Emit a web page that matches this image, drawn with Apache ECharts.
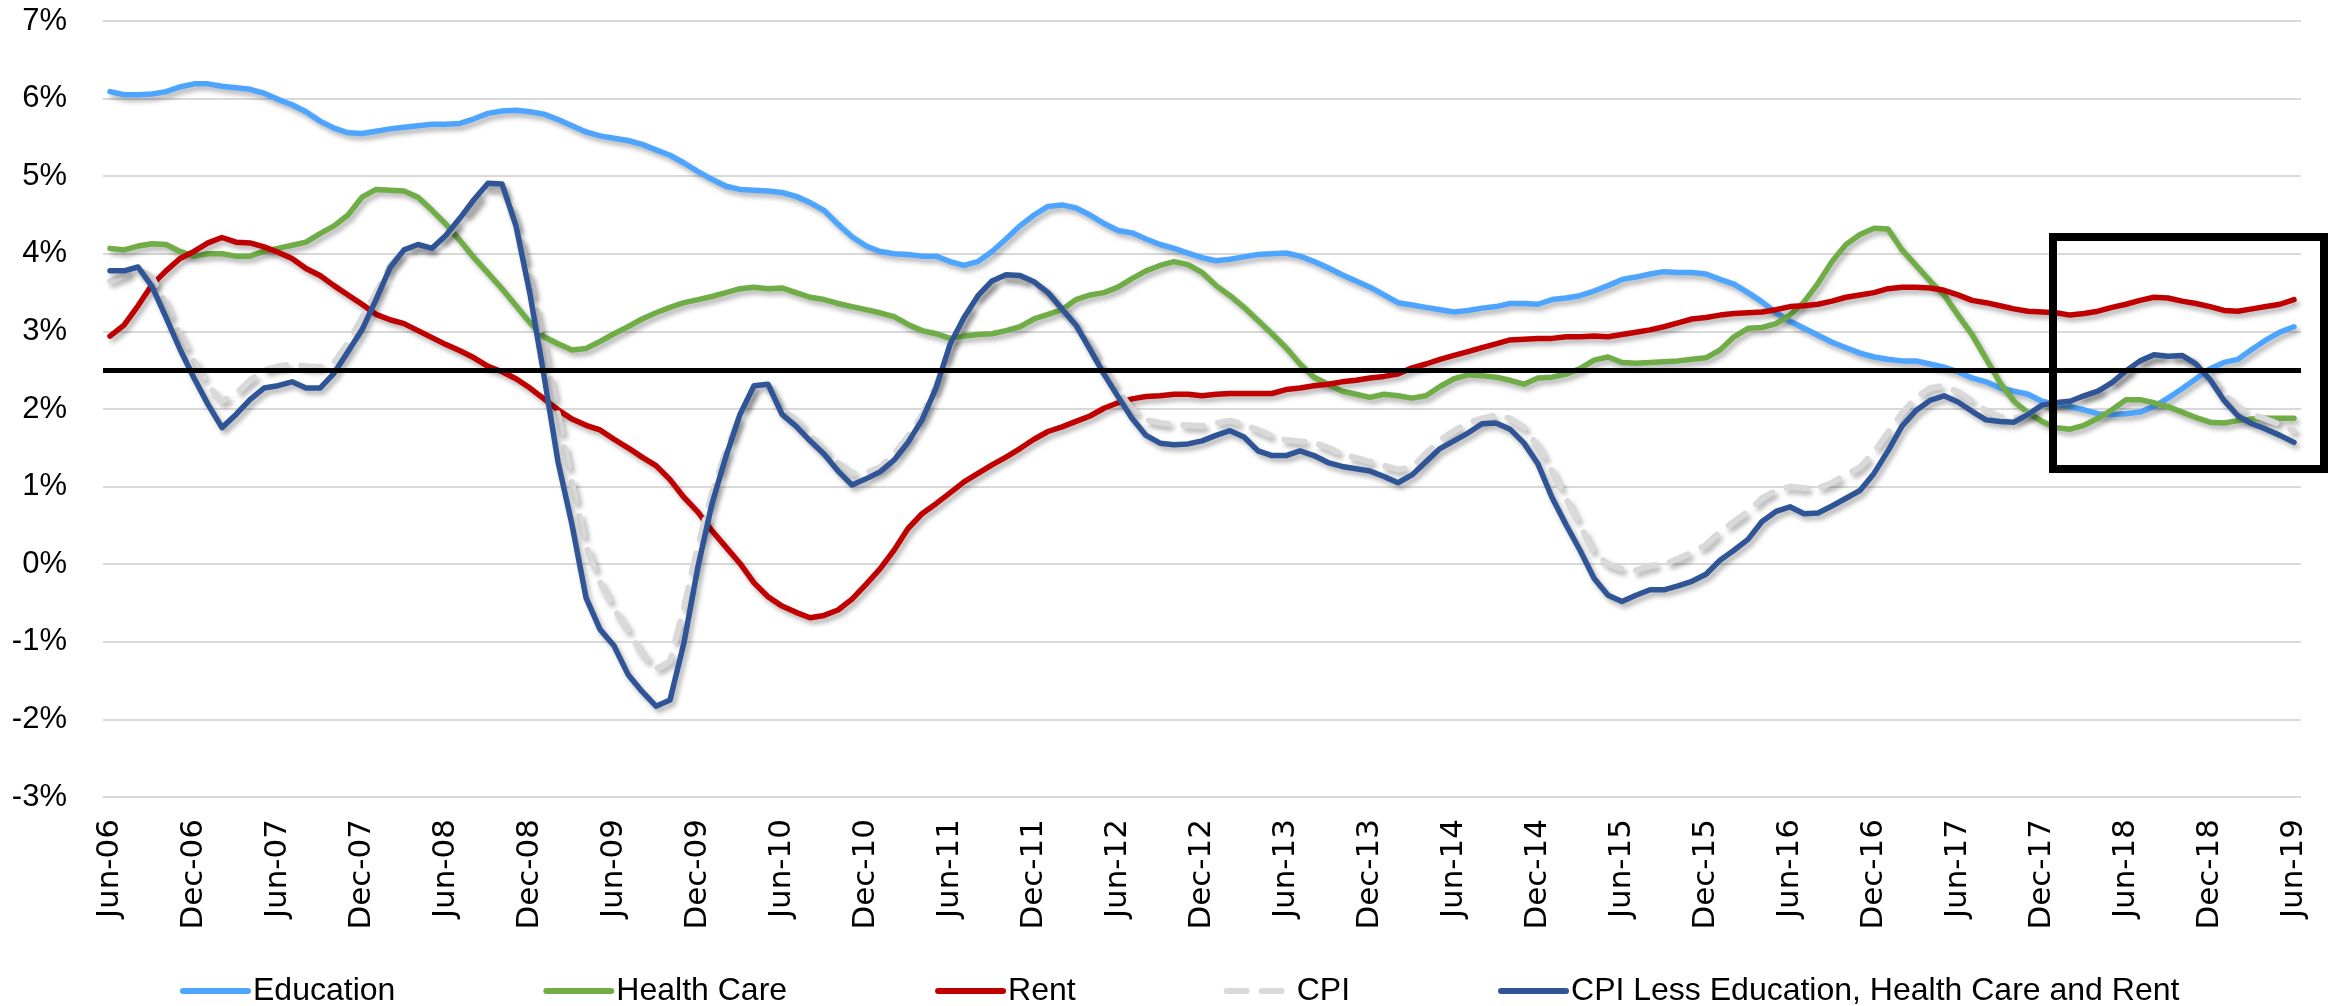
<!DOCTYPE html>
<html>
<head>
<meta charset="utf-8">
<script src="https://cdn.jsdelivr.net/npm/echarts@6/dist/echarts.min.js"></script>
<style>
  html, body { margin: 0; padding: 0; background: #fff; }
  #chart { width: 2328px; height: 1006px; }
</style>
</head>
<body>
<div id="chart"></div>
<script>
// month labels, Jun-06 .. Jun-19
var MONTHS = ['Jan','Feb','Mar','Apr','May','Jun','Jul','Aug','Sep','Oct','Nov','Dec'];
var categories = [];
for (var yr = 2006; yr <= 2019; yr++) {
  for (var mo = 0; mo < 12; mo++) {
    if ((yr == 2006 && mo < 5) || (yr == 2019 && mo > 5)) continue;
    categories.push(MONTHS[mo] + '-' + String(yr).slice(2));
  }
}

var TARGET = 2.5;

var education = [
  6.09,6.05,6.05,6.06,6.09,6.15,6.19,6.19,6.16,6.14,6.12,6.07,5.99,5.92,5.83,5.71,5.62,5.56,5.55,5.58,
  5.61,5.63,5.65,5.67,5.67,5.68,5.74,5.81,5.84,5.85,5.83,5.80,5.73,5.65,5.57,5.52,5.49,5.46,5.41,5.34,
  5.27,5.17,5.06,4.96,4.87,4.83,4.82,4.81,4.79,4.74,4.66,4.56,4.38,4.22,4.10,4.03,4.00,3.99,3.97,3.97,
  3.90,3.85,3.90,4.03,4.19,4.36,4.50,4.61,4.63,4.59,4.50,4.39,4.30,4.27,4.19,4.12,4.07,4.01,3.95,3.91,
  3.93,3.96,3.99,4.00,4.01,3.97,3.90,3.82,3.73,3.65,3.57,3.47,3.37,3.34,3.31,3.28,3.25,3.27,3.30,3.32,
  3.36,3.36,3.35,3.41,3.43,3.46,3.52,3.59,3.67,3.70,3.74,3.77,3.76,3.76,3.74,3.67,3.61,3.50,3.38,3.24,
  3.13,3.04,2.95,2.86,2.79,2.72,2.67,2.64,2.62,2.62,2.58,2.54,2.48,2.40,2.35,2.27,2.23,2.19,2.10,2.06,
  2.03,1.99,1.94,1.93,1.94,1.96,2.03,2.14,2.26,2.39,2.52,2.60,2.64,2.77,2.89,2.99,3.06
];
var healthCare = [
  4.07,4.05,4.10,4.13,4.12,4.03,3.97,4.00,4.00,3.97,3.97,4.03,4.07,4.11,4.15,4.26,4.36,4.50,4.73,4.83,
  4.82,4.81,4.73,4.56,4.38,4.17,3.95,3.75,3.55,3.33,3.11,2.93,2.84,2.76,2.78,2.87,2.97,3.06,3.16,3.24,
  3.31,3.37,3.41,3.45,3.50,3.55,3.57,3.55,3.56,3.50,3.44,3.41,3.36,3.32,3.28,3.24,3.19,3.09,3.01,2.97,
  2.91,2.94,2.96,2.97,3.01,3.06,3.16,3.22,3.28,3.41,3.47,3.50,3.57,3.68,3.78,3.85,3.90,3.86,3.76,3.59,
  3.46,3.31,3.14,2.97,2.79,2.58,2.41,2.32,2.23,2.19,2.15,2.19,2.17,2.14,2.17,2.29,2.39,2.44,2.43,2.41,
  2.37,2.32,2.40,2.41,2.45,2.52,2.63,2.67,2.60,2.59,2.60,2.61,2.62,2.64,2.66,2.76,2.93,3.04,3.05,3.10,
  3.21,3.38,3.62,3.90,4.12,4.25,4.33,4.32,4.05,3.85,3.65,3.47,3.21,2.96,2.65,2.34,2.10,1.95,1.84,1.76,
  1.74,1.79,1.88,1.99,2.12,2.12,2.08,2.03,1.96,1.89,1.83,1.82,1.85,1.87,1.88,1.88,1.88
];
var rent = [
  2.94,3.08,3.33,3.60,3.78,3.94,4.03,4.14,4.21,4.15,4.14,4.09,4.02,3.94,3.81,3.72,3.59,3.47,3.35,3.22,
  3.15,3.10,3.01,2.92,2.83,2.75,2.66,2.55,2.48,2.39,2.27,2.13,1.99,1.87,1.79,1.73,1.61,1.50,1.38,1.27,
  1.09,0.86,0.67,0.43,0.22,0.01,-0.24,-0.42,-0.54,-0.62,-0.69,-0.66,-0.59,-0.45,-0.26,-0.06,0.18,0.46,0.65,0.78,
  0.92,1.06,1.17,1.28,1.38,1.49,1.61,1.71,1.77,1.84,1.91,2.01,2.08,2.13,2.16,2.17,2.19,2.19,2.17,2.19,
  2.20,2.20,2.20,2.20,2.25,2.27,2.30,2.32,2.35,2.37,2.40,2.42,2.45,2.53,2.58,2.64,2.69,2.74,2.79,2.84,
  2.89,2.90,2.91,2.91,2.93,2.93,2.94,2.93,2.96,2.99,3.02,3.06,3.11,3.16,3.18,3.21,3.23,3.24,3.25,3.28,
  3.32,3.33,3.35,3.39,3.44,3.47,3.50,3.55,3.57,3.57,3.56,3.53,3.47,3.40,3.37,3.33,3.29,3.26,3.25,3.24,
  3.21,3.23,3.26,3.31,3.35,3.40,3.44,3.43,3.39,3.36,3.32,3.27,3.26,3.29,3.32,3.35,3.41
];
var cpi = [
  3.65,3.72,3.80,3.70,3.35,2.95,2.62,2.30,2.10,2.20,2.37,2.50,2.55,2.58,2.55,2.54,2.60,2.85,3.18,3.50,
  3.85,4.05,4.10,4.07,4.22,4.40,4.62,4.85,4.85,4.42,3.68,2.80,1.93,1.05,0.24,-0.23,-0.57,-0.85,-1.15,-1.35,
  -1.25,-0.55,0.24,0.92,1.46,1.93,2.27,2.30,2.00,1.86,1.66,1.47,1.31,1.17,1.18,1.25,1.42,1.65,1.92,2.30,
  2.80,3.15,3.45,3.62,3.70,3.68,3.62,3.50,3.30,3.10,2.82,2.52,2.24,2.00,1.86,1.82,1.80,1.79,1.78,1.82,
  1.85,1.80,1.73,1.65,1.60,1.58,1.57,1.50,1.42,1.37,1.32,1.27,1.22,1.25,1.43,1.60,1.72,1.82,1.88,1.92,
  1.88,1.76,1.52,1.20,0.85,0.50,0.15,0.00,-0.06,-0.08,-0.02,0.00,0.07,0.15,0.25,0.42,0.55,0.68,0.85,0.95,
  1.00,0.98,0.98,1.05,1.15,1.25,1.45,1.70,1.95,2.15,2.27,2.30,2.22,2.10,1.98,1.90,1.88,1.93,2.05,2.08,
  2.10,2.17,2.23,2.33,2.47,2.60,2.68,2.67,2.68,2.60,2.42,2.20,2.02,1.93,1.87,1.80,1.72
];
var cpiLess = [
  3.78,3.78,3.83,3.58,3.18,2.77,2.40,2.06,1.76,1.93,2.12,2.27,2.30,2.35,2.27,2.27,2.46,2.74,3.02,3.41,
  3.82,4.05,4.12,4.07,4.24,4.46,4.70,4.91,4.90,4.36,3.48,2.43,1.32,0.51,-0.43,-0.84,-1.05,-1.42,-1.64,-1.83,
  -1.75,-1.01,-0.03,0.78,1.39,1.93,2.30,2.32,1.93,1.78,1.59,1.42,1.20,1.02,1.10,1.19,1.34,1.57,1.86,2.27,
  2.83,3.18,3.46,3.65,3.73,3.72,3.64,3.50,3.29,3.08,2.77,2.45,2.16,1.88,1.66,1.56,1.54,1.55,1.59,1.66,
  1.72,1.64,1.46,1.40,1.40,1.46,1.40,1.31,1.26,1.23,1.20,1.13,1.05,1.15,1.32,1.49,1.59,1.69,1.81,1.82,
  1.74,1.56,1.29,0.86,0.51,0.18,-0.18,-0.40,-0.48,-0.40,-0.33,-0.33,-0.28,-0.22,-0.13,0.05,0.18,0.32,0.55,0.68,
  0.74,0.65,0.66,0.75,0.85,0.95,1.17,1.46,1.78,1.98,2.11,2.17,2.09,1.97,1.86,1.84,1.83,1.93,2.05,2.08,
  2.10,2.17,2.23,2.34,2.49,2.62,2.70,2.68,2.69,2.58,2.38,2.11,1.91,1.81,1.74,1.66,1.57
];

var names = ['Education', 'Health Care', 'Rent', 'CPI', 'CPI Less Education, Health Care and Rent'];

var chart = echarts.init(document.getElementById('chart'));

// line series with the soft drop shadow the original has
function lineSeries(name, data, color, width, dash) {
  return {
    name: name,
    type: 'line',
    data: data,
    symbol: 'none',
    z: 3,
    lineStyle: {
      color: color,
      width: width,
      type: dash || 'solid',
      cap: 'round',
      join: 'round',
      shadowColor: 'rgba(0,0,0,0.3)',
      shadowBlur: 5,
      shadowOffsetX: 3,
      shadowOffsetY: 4
    },
    itemStyle: { color: color }
  };
}

var option = {
  animation: false,
  backgroundColor: '#fff',
  grid: { left: 103, right: 27, top: 21, bottom: 209 },
  legend: {
    data: names,
    left: 175,
    top: 970,
    itemWidth: 65,
    itemHeight: 14,
    itemGap: 148,
    textStyle: { fontFamily: 'Liberation Sans', fontSize: 32, color: '#000' },
    itemStyle: { opacity: 0 },
    lineStyle: {
      width: 6,
      cap: 'round',
      shadowBlur: 0, shadowOffsetX: 0, shadowOffsetY: 0, shadowColor: 'transparent'
    }
  },
  xAxis: {
    type: 'category',
    data: categories,
    boundaryGap: true,
    axisLine: { show: false },
    axisTick: { show: false },
    axisLabel: {
      interval: 5,
      rotate: 90,
      margin: 22,
      fontFamily: 'DejaVu Sans',
      fontSize: 31,
      color: '#000'
    }
  },
  yAxis: {
    type: 'value',
    min: -3,
    max: 7,
    interval: 1,
    axisLine: { show: false },
    axisTick: { show: false },
    splitLine: { lineStyle: { color: '#d9d9d9', width: 2 } },
    axisLabel: {
      formatter: '{value}%',
      margin: 36,
      fontFamily: 'Liberation Sans',
      fontSize: 31,
      color: '#000'
    }
  },
  series: [
    {
      name: 'Target',
      type: 'line',
      data: [],
      z: 2,
      markLine: {
        silent: true,
        symbol: 'none',
        label: { show: false },
        lineStyle: { color: '#000', width: 5, type: 'solid' },
        data: [{ yAxis: TARGET }]
      }
    },
    lineSeries(names[0], education, '#4ea5ff', 5.5),
    lineSeries(names[1], healthCare, '#70ad47', 5.5),
    lineSeries(names[2], rent, '#c00000', 5.5),
    lineSeries(names[3], cpi, '#d9d9d9', 6, [20, 15]),
    lineSeries(names[4], cpiLess, '#2f5597', 5.5)
  ],
  graphic: [
    {
      type: 'rect',
      z: 100,
      shape: { x: 2053, y: 237, width: 271, height: 232 },
      style: { fill: 'none', stroke: '#000', lineWidth: 8 }
    }
  ]
};

chart.setOption(option);
</script>
</body>
</html>
